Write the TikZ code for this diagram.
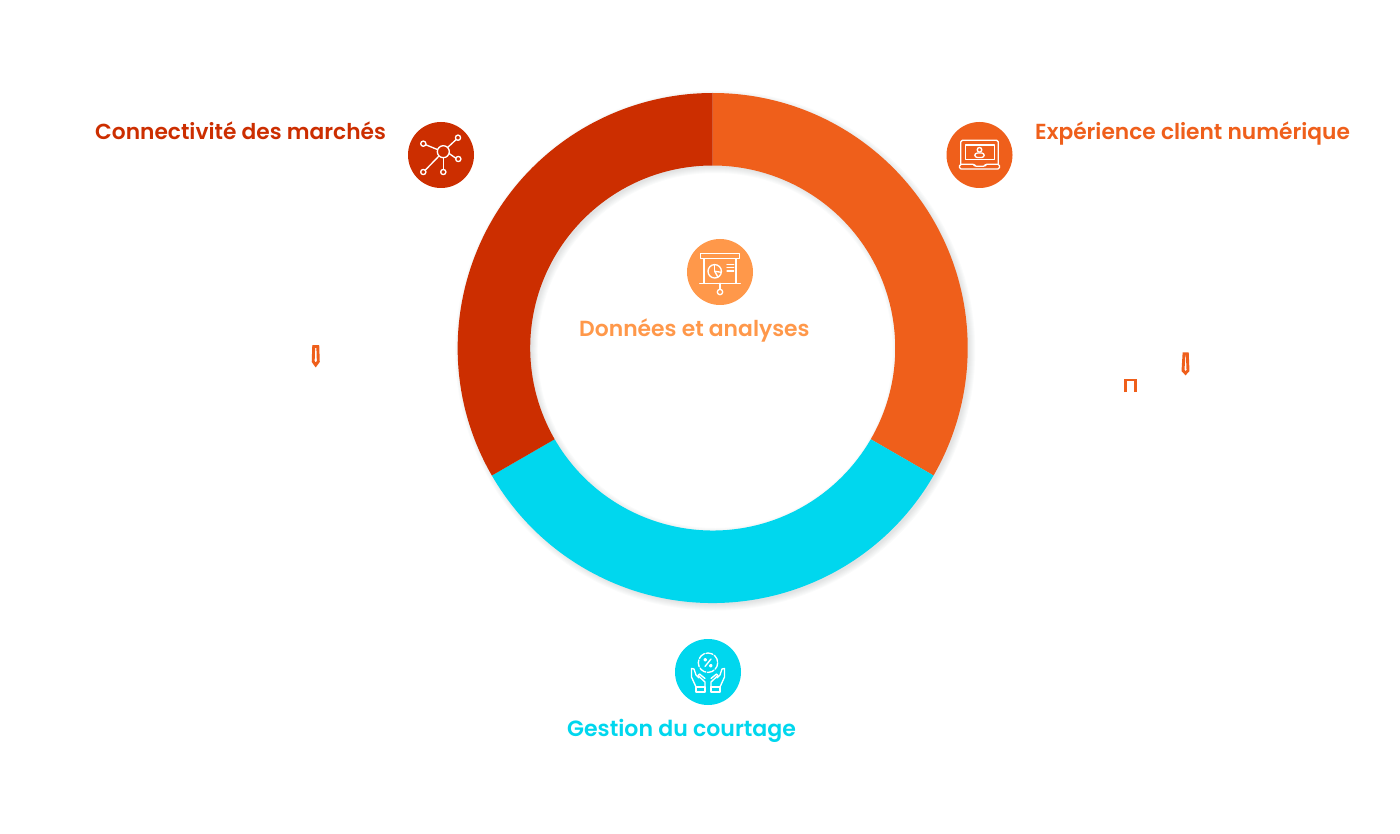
\documentclass[tikz,border=0pt]{standalone}
\usepackage{fontspec}
\setmainfont{Poppins}[BoldFont={Poppins SemiBold}]
\definecolor{cred}{HTML}{CC2E00}
\definecolor{corange}{HTML}{EF5F1B}
\definecolor{clight}{HTML}{FF984A}
\definecolor{ccyan}{HTML}{00D7EE}
\definecolor{cshadow}{HTML}{30484F}
\tikzset{
  disc/.style={circle,minimum size=66pt,inner sep=0pt,fill=#1},
  lab/.style={anchor=base west,inner sep=0pt,text=#1,font=\fontsize{21.75}{26}\selectfont\bfseries},
  ico/.style={draw=white,line width=1.35pt,line join=round,line cap=round},
  tick/.style={draw=corange,line width=2.9pt,line join=miter}
}
\newcommand{\ringseg}[3]{\fill[#3] (#1:255pt) arc[start angle=#1,end angle=#2,radius=255pt] -- (#2:182.5pt) arc[start angle=#2,end angle=#1,radius=182.5pt] -- cycle;}
\begin{document}
\begin{tikzpicture}[x=1pt,y=-1pt]
\useasboundingbox (0,0) rectangle (1400,834);
\fill[white] (0,0) rectangle (1400,834);
% soft shadow
\begin{scope}[shift={(715.2,350.5)},even odd rule]
\foreach \d in {5,4,3,2,1,0,-1}{
  \fill[cshadow,opacity=0.02] (0,0) circle[radius={255pt+\d pt}] (0,0) circle[radius={182.5pt-\d pt}];
}
\end{scope}
% ring
\begin{scope}[shift={(712.7,348)}]
\ringseg{90}{-30}{corange}
\ringseg{-30}{-150}{ccyan}
\ringseg{-150}{-270}{cred}
\end{scope}
% discs
\node[disc=cred] (net) at (441,155) {};
\node[disc=corange] (lap) at (979.5,155) {};
\node[disc=clight] (data) at (720,272) {};
\node[disc=ccyan] (hand) at (708,672) {};
% labels
\node[lab=cred] (tnet) at (95,139.5) {Connectivité des marchés};
\node[lab=corange] (tlap) at (1035,140) {Expérience client numérique};
\node[lab=clight,font=\fontsize{21.85}{26}\selectfont\bfseries] (tdata) at (579,336) {Données et analyses};
\node[lab=ccyan,font=\fontsize{22.05}{26}\selectfont\bfseries] (thand) at (567,736) {Gestion du courtage};
% network icon
\begin{scope}[shift={(net.center)},ico]
\draw (2.3,-3.3) circle[radius=6];
\foreach \x/\y in {-17.7/-11.3,17/-17.3,17.3/4,2.3/17,-17.7/17}{
  \draw (\x,\y) circle[radius=2.6];
}
\draw (-15.2,-10.2) -- (-3.4,-5.4);
\draw (15.2,-15.5) -- (6.6,-7.5);
\draw (14.8,3.2) -- (8.1,-1.5);
\draw (2.3,14.4) -- (2.3,2.7);
\draw (-15.8,15.2) -- (-2,1);
\end{scope}
% laptop icon
\begin{scope}[shift={(lap.center)},ico]
\draw[rounded corners=1.5pt] (-18.7,9.3) -- (-18.7,-14.7) -- (18.7,-14.7) -- (18.7,9.3);
\draw (-14,4.5) rectangle (14.7,-10);
\draw[rounded corners=1.5pt] (-20,9.3) -- (-5,9.3) -- (-5,11.3) -- (5.7,11.3) -- (5.7,9.3) -- (20,9.3) -- (20,14) -- (-20,14) -- cycle;
\draw (0,-5.2) circle[radius=2.3];
\draw[rounded corners=2.5pt] (-4.7,2.5) -- (-4.7,-2) -- (4.7,-2) -- (4.7,2.5) -- cycle;
\end{scope}
% presentation icon
\begin{scope}[shift={(data.center)},ico]
\draw (-19.7,-18.7) rectangle (19.7,-13.3);
\draw (-16,-13.3) -- (-16,11.3);
\draw (16,-13.3) -- (16,11.3);
\draw (-20.3,11.3) -- (20.3,11.3);
\draw (0,11.3) -- (0,17.3);
\draw (0,20) circle[radius=2.7];
\draw (-5.3,-0.7) circle[radius=6.7];
\draw (-5.3,-0.7) -- (-5.3,-7.4);
\draw (-5.3,-0.7) -- (1.3,0.3);
\draw (-5.3,-0.7) -- (-2,5.2);
\foreach \y in {-7.7,-4.3,-1}{\draw (7,\y) -- (13.7,\y);}
\end{scope}
% hands icon
\begin{scope}[shift={(hand.center)},ico]
\draw[dash pattern=on 7pt off 1.7pt] (0,-9.3) circle[radius=9.7];
\draw (-3,-5.5) -- (3,-13);
\draw (-2.8,-12.3) circle[radius=1.2];
\draw (2.8,-6.3) circle[radius=1.2];
\foreach \s in {1,-1}{
  \begin{scope}[xscale=\s]
  \draw (12,15) rectangle (3,20);
  \draw (12,15) -- (16.5,5) -- (16.5,-3.5) -- (14,-3) -- (12,3) -- (9,6);
  \draw (3,15) -- (3,10) -- (10,3.5) -- (8.5,2) -- (3,6.5);
  \end{scope}
}
\end{scope}
% small marks
\draw[tick] (313.7,346.5) -- (317.8,346.5) -- (318.3,361.5) -- (315.7,365) -- (313.2,361.5) -- cycle;
\draw[tick] (1184,353.8) -- (1187.3,353.8) -- (1188,370.5) -- (1185.5,373.2) -- (1183,370.5) -- cycle;
\draw[tick,line cap=butt] (1125.6,392) -- (1125.6,380) -- (1135.4,380) -- (1135.4,392);
\end{tikzpicture}
\end{document}
